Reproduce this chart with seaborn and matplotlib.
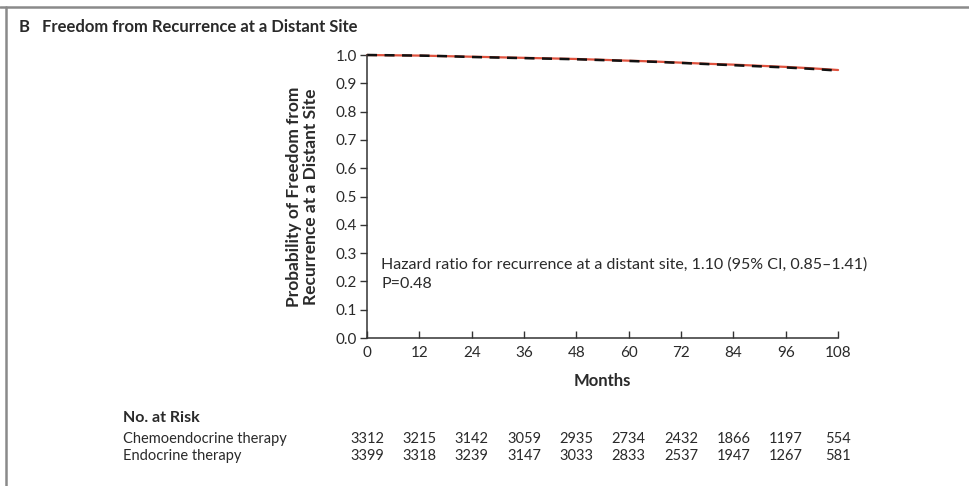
import matplotlib
matplotlib.use("Agg")
import matplotlib.pyplot as plt
from matplotlib.lines import Line2D
import numpy as np
import pandas as pd
import seaborn as sns

# Kaplan-Meier estimates, freedom from recurrence at a distant site
months = [0, 6, 12, 18, 24, 30, 36, 42, 48, 54, 60, 66, 72, 78, 84, 90, 96, 102, 108]
chemoendocrine = [1.000, 0.999, 0.998, 0.996, 0.994, 0.992, 0.990, 0.988, 0.986,
                  0.983, 0.980, 0.977, 0.973, 0.969, 0.966, 0.962, 0.958, 0.953, 0.947]
endocrine = [1.000, 0.999, 0.998, 0.996, 0.993, 0.991, 0.989, 0.987, 0.985,
             0.982, 0.979, 0.976, 0.972, 0.968, 0.964, 0.960, 0.956, 0.951, 0.945]

# Number-at-risk table
risk_months = [0, 12, 24, 36, 48, 60, 72, 84, 96, 108]
risk_chemo = [3312, 3215, 3142, 3059, 2935, 2734, 2432, 1866, 1197, 554]
risk_endo = [3399, 3318, 3239, 3147, 3033, 2833, 2537, 1947, 1267, 581]
group_names = ["Chemoendocrine therapy", "Endocrine therapy"]

y_ticks = [0.0, 0.1, 0.2, 0.3, 0.4, 0.5, 0.6, 0.7, 0.8, 0.9, 1.0]

TXT = "#2a2a2a"

sns.set_theme(style="white")
plt.rcParams["font.family"] = ["Lato", "DejaVu Sans"]

df = pd.DataFrame({
    "Months": months * 2,
    "Survival": chemoendocrine + endocrine,
    "Group": [group_names[0]] * len(months) + [group_names[1]] * len(months),
})

fig = plt.figure(figsize=(9.7, 4.86), dpi=100)
ax = fig.add_axes([0.3784, 0.3045, 0.4856, 0.5823])

sns.lineplot(data=df[df.Group == group_names[0]], x="Months", y="Survival",
             color="#e0533f", linewidth=1.6, ax=ax, legend=False, clip_on=False)
sns.lineplot(data=df[df.Group == group_names[1]], x="Months", y="Survival",
             color="#111111", linewidth=1.8, ax=ax, legend=False, clip_on=False,
             dashes=False, linestyle=(0, (4, 3)))

ax.set_xlim(0, 108)
ax.set_ylim(0, 1.0)
ax.set_xticks(risk_months)
ax.set_xticklabels([str(m) for m in risk_months], fontsize=11, color=TXT)
ax.set_yticks(y_ticks)
ax.set_yticklabels([f"{v:.1f}" for v in y_ticks], fontsize=11, color=TXT)
ax.tick_params(axis="y", direction="out", length=5, width=1, color="#333333", pad=2, left=True)
ax.tick_params(axis="x", direction="in", length=5, width=1, color="#333333", pad=6, bottom=True)
for side in ("top", "right"):
    ax.spines[side].set_visible(False)
for side in ("left", "bottom"):
    ax.spines[side].set_color("#333333")
    ax.spines[side].set_linewidth(1.1)

ax.set_xlabel("Months", fontsize=12, fontweight="bold", color=TXT, labelpad=9)
ax.set_ylabel("Probability of Freedom from\nRecurrence at a Distant Site", fontsize=12.5,
              fontweight="bold", color=TXT, labelpad=12, linespacing=1.1)

ax.text(3.3, 0.258, "Hazard ratio for recurrence at a distant site, 1.10 (95% CI, 0.85\u20131.41)",
        fontsize=11.5, color=TXT, va="center")
ax.text(3.3, 0.19, "P=0.48", fontsize=11.5, color=TXT, va="center")

# Panel title
fig.text(0.019, 0.944, "B", fontsize=12, fontweight="bold", color=TXT, va="center")
fig.text(0.043, 0.944, "Freedom from Recurrence at a Distant Site", fontsize=12,
         fontweight="bold", color=TXT, va="center")

# Number-at-risk rows under the axis
fig.text(0.127, 1 - 418 / 486, "No. at Risk", fontsize=11.5, fontweight="bold",
         color=TXT, va="center")
row_y = [1 - 439 / 486, 1 - 456 / 486]
for name, counts, yy in zip(group_names, [risk_chemo, risk_endo], row_y):
    fig.text(0.127, yy, name, fontsize=10.5, color=TXT, va="center")
    for m, c in zip(risk_months, counts):
        xf = fig.transFigure.inverted().transform(ax.transData.transform((m, 0)))[0]
        fig.text(xf, yy, str(c), fontsize=10.5, color=TXT, va="center", ha="center")

# Panel frame: rule across the top and down the left side
fig.add_artist(Line2D([0.0, 1.0], [1 - 7 / 486] * 2, transform=fig.transFigure,
                      color="#8a8a8a", linewidth=1.8))
fig.add_artist(Line2D([6 / 970] * 2, [0.0, 1 - 7 / 486], transform=fig.transFigure,
                      color="#8a8a8a", linewidth=1.8))

fig.savefig("out.png", dpi=100)
